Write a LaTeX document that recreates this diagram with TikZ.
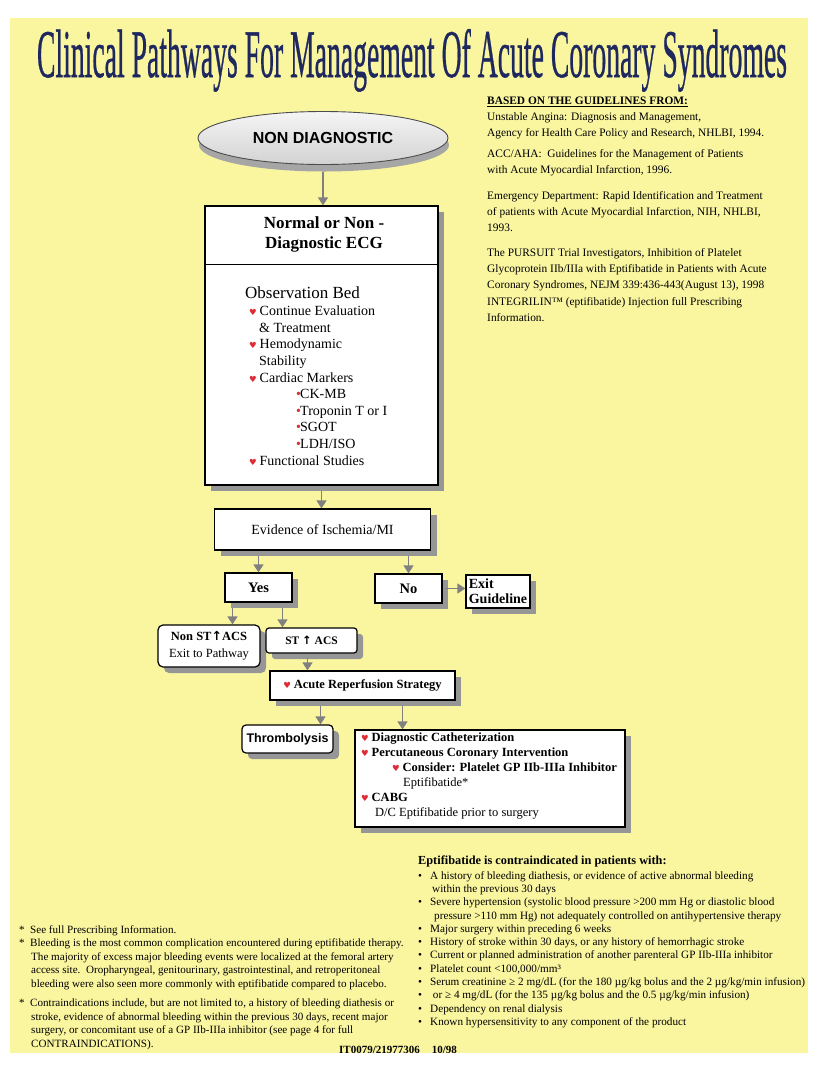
\documentclass[tikz,border=0pt]{standalone}
\usepackage{fontspec}
\setmainfont{Liberation Serif}
\setsansfont{Liberation Sans}
\newfontfamily\dejavu{DejaVu Sans}
\newfontfamily\titlefont{Liberation Serif}[FakeBold=0.8]
\usetikzlibrary{shapes.geometric, arrows.meta, positioning, shadows}

\definecolor{pageyellow}{RGB}{250,246,160}
\definecolor{titleblue}{RGB}{30,40,95}
\definecolor{heartred}{RGB}{220,45,55}
\definecolor{shadegray}{RGB}{150,150,150}
\definecolor{flowgray}{RGB}{128,128,128}

\newcommand{\hrt}{\makebox[10.5pt][l]{\textcolor{heartred}{\dejavu\fontsize{8.5}{8.5}\selectfont ♥}}}
\newcommand{\rdot}{\makebox[4pt][l]{\textcolor{heartred}{•}}}
\newcommand{\blt}{\makebox[12pt][l]{•}}
\newcommand{\upa}{{\dejavu ↑}}

\begin{document}
\begin{tikzpicture}[x=1pt, y=-1pt,
    every node/.style={font=\fontsize{13}{15}\selectfont},
    flowbox/.style={draw, rectangle, line width=1.2pt, fill=white, inner sep=2pt, align=center, drop shadow={shadow xshift=6pt, shadow yshift=-6pt, fill=shadegray, opacity=1}},
    roundbox/.style={flowbox, rounded corners=5pt},
    textblock/.style={anchor=north west, align=left, inner sep=0pt},
    arrow/.style={-{Triangle[length=8pt, width=10pt]}, draw=flowgray, line width=1.3pt}
]
    % Page background
    \useasboundingbox (0,0) rectangle (824,1077);
    \fill[pageyellow] (10,18) rectangle (808,1053);

    % Title
    \node (title) [anchor=base, inner sep=0pt, text=titleblue] at (412,77) {\resizebox{750pt}{48pt}{\titlefont\fontsize{71}{71}\selectfont Clinical Pathways For Management Of Acute Coronary Syndromes}};

    % Start ellipse
    \node (nondiag) [ellipse, draw=black!70, line width=0.9pt, top color=gray!8, bottom color=gray!35, minimum width=250pt, minimum height=53pt, font=\sffamily\bfseries\fontsize{16}{16}\selectfont, drop shadow={shadow xshift=1pt, shadow yshift=-7pt, fill=gray!70, opacity=1}] at (323,138) {NON DIAGNOSTIC};

    % ECG box with header
    \node (ecg) [flowbox, minimum width=233pt, minimum height=279pt] at (321.5,345.5) {};
    \draw [line width=1pt] ([yshift=-59pt]ecg.north west) -- ([yshift=-59pt]ecg.north east);
    \node (ecghead) [font=\bfseries\fontsize{17}{20}\selectfont, align=center] at (324,234) {Normal or Non -\\Diagnostic ECG};
    \node (obs) [textblock, font=\fontsize{14}{16.6}\selectfont] at (245,286) {{\fontsize{17}{18}\selectfont Observation Bed}\\[1pt]
        \hspace*{4pt}\hrt Continue Evaluation\\
        \hspace*{14pt}\& Treatment\\
        \hspace*{4pt}\hrt Hemodynamic\\
        \hspace*{14pt}Stability\\
        \hspace*{4pt}\hrt Cardiac Markers\\
        \hspace*{51pt}\rdot CK-MB\\
        \hspace*{51pt}\rdot Troponin T or I\\
        \hspace*{51pt}\rdot SGOT\\
        \hspace*{51pt}\rdot LDH/ISO\\
        \hspace*{4pt}\hrt Functional Studies};

    % Decision boxes
    \node (evidence) [flowbox, minimum width=216pt, minimum height=41pt, font=\fontsize{14}{16}\selectfont] at (322.5,529.5) {Evidence of Ischemia/MI};
    \node (yes) [flowbox, minimum width=67pt, minimum height=29pt, font=\bfseries\fontsize{14.5}{16}\selectfont] at (258.5,587.5) {Yes};
    \node (no) [flowbox, minimum width=67pt, minimum height=29pt, font=\bfseries\fontsize{14.5}{16}\selectfont] at (408.5,588.5) {No};
    \node (exit) [flowbox, minimum width=64pt, minimum height=33pt, inner sep=1pt, align=left, font=\bfseries\fontsize{14}{15}\selectfont] at (498,591.5) {Exit\\Guideline};

    % ACS boxes
    \node (nonst) [roundbox, minimum width=102pt, minimum height=42pt, font=\fontsize{12.5}{17}\selectfont] at (209,646) {{\bfseries Non ST\upa ACS}\\Exit to Pathway};
    \node (st) [flowbox, rounded corners=3pt, minimum width=91pt, minimum height=25pt, font=\bfseries\fontsize{11.5}{13}\selectfont] at (311.5,640.5) {ST \upa\ ACS};
    \node (acute) [flowbox, minimum width=185pt, minimum height=29pt, font=\bfseries\fontsize{12.5}{14}\selectfont] at (362.5,685.5) {\hrt Acute Reperfusion Strategy};

    % Strategy boxes
    \node (thrombo) [roundbox, rounded corners=4pt, minimum width=91pt, minimum height=28pt, font=\sffamily\bfseries\fontsize{12.5}{14}\selectfont] at (287.5,739) {Thrombolysis};
    \node (cath) [flowbox, minimum width=270pt, minimum height=97pt] at (490,778.5) {};
    \node (cathlist) [textblock, font=\bfseries\fontsize{12.5}{15}\selectfont] at (361,733) {\hrt Diagnostic Catheterization\\
        \hrt Percutaneous Coronary Intervention\\
        \hspace*{31pt}\hrt Consider: Platelet GP IIb-IIIa Inhibitor\\
        \hspace*{42pt}{\mdseries Eptifibatide*}\\
        \hrt CABG\\
        \hspace*{14pt}{\mdseries D/C Eptifibatide prior to surgery}};

    % Flows
    \draw [arrow] ([yshift=-7pt]nondiag.south) -- (nondiag.south |- ecg.north);
    \draw [arrow] ([yshift=-5pt]ecg.south) -- (ecg.south |- evidence.north);
    \draw [arrow] ([yshift=-5pt]evidence.south -| yes.north) -- (yes.north);
    \draw [arrow] ([yshift=-5pt]evidence.south -| no.north) -- (no.north);
    \draw [arrow] ([xshift=2pt]no.east) -- (no.east -| exit.west);
    \draw [arrow] ([xshift=-26pt, yshift=-5pt]yes.south) -- ([xshift=-26pt]yes.south |- nonst.north);
    \draw [arrow] ([xshift=24pt, yshift=-5pt]yes.south) -- ([xshift=24pt]yes.south |- st.north);
    \draw [arrow] ([xshift=-4pt, yshift=-4pt]st.south) -- ([xshift=-4pt]st.south |- acute.north);
    \draw [arrow] ([xshift=-42pt, yshift=-5pt]acute.south) -- ([xshift=-42pt]acute.south |- thrombo.north);
    \draw [arrow] ([xshift=40pt, yshift=-5pt]acute.south) -- ([xshift=40pt]acute.south |- cath.north);

    % Guideline references
    \node (refs) [textblock, font=\fontsize{11.4}{16}\selectfont] at (487,97) {\underline{\textbf{BASED ON THE GUIDELINES FROM:}}\\
        Unstable Angina: Diagnosis and Management,\\
        Agency for Health Care Policy and Research, NHLBI, 1994.\\[5pt]
        ACC/AHA:\ \ Guidelines for the Management of Patients\\
        with Acute Myocardial Infarction, 1996.\\[10pt]
        Emergency Department: Rapid Identification and Treatment\\
        of patients with Acute Myocardial Infarction, NIH, NHLBI,\\
        1993.\\[9pt]
        The PURSUIT Trial Investigators, Inhibition of Platelet\\
        Glycoprotein IIb/IIIa with Eptifibatide in Patients with Acute\\
        Coronary Syndromes, NEJM 339:436-443(August 13), 1998\\[1pt]
        INTEGRILIN™ (eptifibatide) Injection full Prescribing\\
        Information.};

    % Contraindications
    \node (contra) [textblock, font=\fontsize{11.2}{13.3}\selectfont] at (418,856) {{\bfseries\fontsize{12.3}{13}\selectfont Eptifibatide is contraindicated in patients with:}\\[1pt]
        \blt A history of bleeding diathesis, or evidence of active abnormal bleeding\\
        \hspace*{14pt}within the previous 30 days\\
        \blt Severe hypertension (systolic blood pressure >200 mm Hg or diastolic blood\\
        \hspace*{16pt}pressure >110 mm Hg) not adequately controlled on antihypertensive therapy\\
        \blt Major surgery within preceding 6 weeks\\
        \blt History of stroke within 30 days, or any history of hemorrhagic stroke\\
        \blt Current or planned administration of another parenteral GP IIb-IIIa inhibitor\\
        \blt Platelet count <100,000/mm³\\
        \blt Serum creatinine ≥ 2 mg/dL (for the 180 µg/kg bolus and the 2 µg/kg/min infusion)\\
        \blt \ or ≥ 4 mg/dL (for the 135 µg/kg bolus and the 0.5 µg/kg/min infusion)\\
        \blt Dependency on renal dialysis\\
        \blt Known hypersensitivity to any component of the product};

    % Footnotes
    \node (notes) [textblock, font=\fontsize{11.1}{13.5}\selectfont] at (19,925) {\makebox[11pt][l]{*}See full Prescribing Information.\\
        \makebox[11pt][l]{*}Bleeding is the most common complication encountered during eptifibatide therapy.\\
        \hspace*{12pt}The majority of excess major bleeding events were localized at the femoral artery\\
        \hspace*{12pt}access site.\ \ Oropharyngeal, genitourinary, gastrointestinal, and retroperitoneal\\
        \hspace*{12pt}bleeding were also seen more commonly with eptifibatide compared to placebo.\\[6pt]
        \makebox[11pt][l]{*}Contraindications include, but are not limited to, a history of bleeding diathesis or\\
        \hspace*{12pt}stroke, evidence of abnormal bleeding within the previous 30 days, recent major\\
        \hspace*{12pt}surgery, or concomitant use of a GP IIb-IIIa inhibitor (see page 4 for full\\
        \hspace*{12pt}CONTRAINDICATIONS).};
    \node (code) [anchor=base west, inner sep=0pt, font=\bfseries\fontsize{11}{12}\selectfont] at (339,1053) {IT0079/21977306\hspace{12pt}10/98};

\end{tikzpicture}
\end{document}
